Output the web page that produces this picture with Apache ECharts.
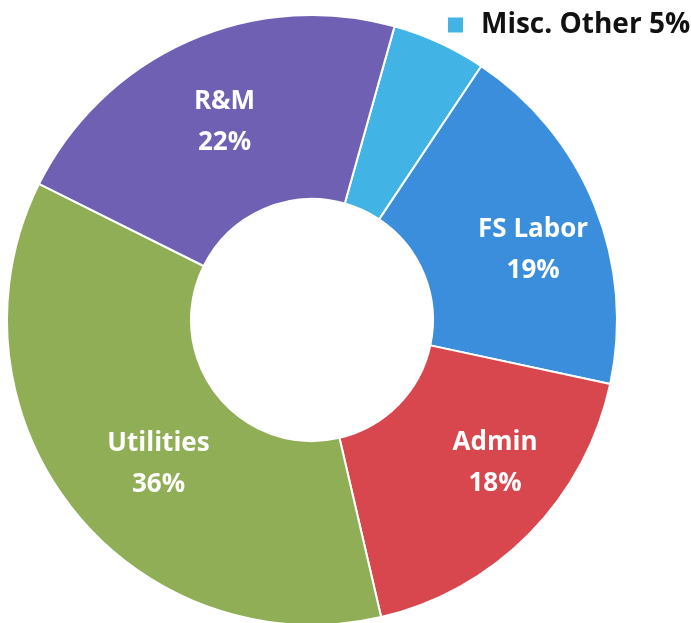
<!DOCTYPE html>
<html>
<head>
<meta charset="utf-8">
<script src="https://cdn.jsdelivr.net/npm/echarts@6/dist/echarts.min.js"></script>
<style>html,body{margin:0;padding:0;background:#fff;}#c{width:691px;height:623px;}</style>
</head>
<body>
<div id="c"></div>
<script>
const categories = ['Misc. Other', 'FS Labor', 'Admin', 'Utilities', 'R&M'];
const values = [5, 19, 18, 36, 22];
const colors = ['#41B3E4', '#3A8EDB', '#D9474E', '#8FAE56', '#7060B3'];
const labelShift = [[0, 0], [21, 11], [29, -8], [16, 10], [0, 0]];

const chart = echarts.init(document.getElementById('c'));
chart.setOption({
  animation: false,
  legend: {
    data: ['Misc. Other'],
    left: 446, top: 8, padding: 0,
    icon: 'rect', itemWidth: 17, itemHeight: 17,
    formatter: function (n) { return n + ' ' + values[categories.indexOf(n)] + '%'; },
    textStyle: { fontFamily: 'Open Sans', fontWeight: 'bold', fontSize: 28, lineHeight: 34, color: '#111', padding: [0, 0, 0, 12] }
  },
  series: [{
    type: 'pie',
    center: [312, 320],
    radius: [121, 305],
    startAngle: 74.3,
    clockwise: true,
    avoidLabelOverlap: false,
    itemStyle: { borderColor: '#fff', borderWidth: 2 },
    label: {
      position: 'inside',
      formatter: '{b}\n{c}%',
      color: '#fff',
      fontFamily: 'Open Sans',
      fontWeight: 'bold',
      fontSize: 26,
      lineHeight: 41
    },
    labelLayout: function (p) {
      return { dx: labelShift[p.dataIndex][0], dy: labelShift[p.dataIndex][1] };
    },
    data: categories.map((c, i) => ({
      name: c, value: values[i],
      itemStyle: { color: colors[i] },
      label: { show: i !== 0 }
    }))
  }]
});
</script>
</body>
</html>
